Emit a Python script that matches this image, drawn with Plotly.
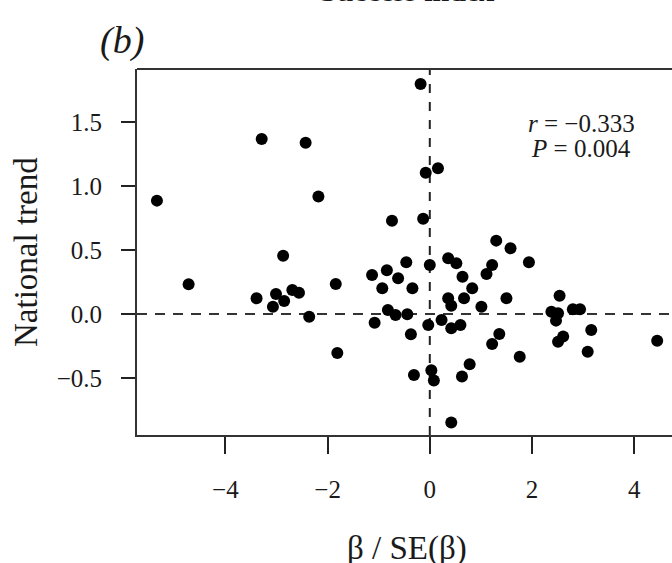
import plotly.graph_objects as go

# beta / SE(beta) values (x) and national trend values (y)
x_vals = [-5.34, -4.72, -3.39, -3.29, -3.07, -3.01, -2.87, -2.85, -2.69, -2.56,
          -2.43, -2.36, -2.18, -1.84, -1.81, -1.13, -1.08, -0.93, -0.84, -0.82,
          -0.74, -0.67, -0.62, -0.46, -0.44, -0.37, -0.34, -0.31, -0.18, -0.13,
          -0.08, -0.03, 0.00, 0.03, 0.08, 0.16, 0.23, 0.36, 0.36, 0.42,
          0.42, 0.42, 0.52, 0.60, 0.63, 0.64, 0.67, 0.78, 0.83, 1.01,
          1.11, 1.22, 1.22, 1.30, 1.36, 1.50, 1.58, 1.76, 1.94, 2.38,
          2.47, 2.51, 2.51, 2.54, 2.61, 2.80, 2.94, 3.09, 3.16, 4.45]
y_vals = [0.887, 0.232, 0.123, 1.37, 0.057, 0.156, 0.455, 0.102, 0.188, 0.167,
          1.34, -0.021, 0.92, 0.235, -0.305, 0.305, -0.068, 0.201, 0.343, 0.031,
          0.73, -0.008, 0.279, 0.405, -0.002, -0.159, 0.201, -0.477, 1.80, 0.746,
          1.105, -0.086, 0.383, -0.44, -0.52, 1.14, -0.047, 0.436, 0.123, 0.065,
          -0.112, -0.85, 0.397, -0.086, -0.49, 0.292, 0.123, -0.394, 0.201, 0.057,
          0.313, 0.383, -0.235, 0.574, -0.156, 0.123, 0.514, -0.334, 0.404, 0.018,
          -0.052, 0.005, -0.217, 0.143, -0.177, 0.037, 0.037, -0.295, -0.125, -0.209]

x_ticks = [-4, -2, 0, 2, 4]
y_ticks = [-0.5, 0.0, 0.5, 1.0, 1.5]

FONT = "Liberation Serif, Times New Roman, serif"
TXT = "#1a1a1a"

fig = go.Figure()
fig.add_trace(go.Scatter(
    x=x_vals, y=y_vals, mode="markers",
    marker=dict(color="black", size=12, line=dict(width=0)),
    showlegend=False, hoverinfo="x+y"))

# dashed reference lines at zero
fig.add_shape(type="line", xref="x", yref="paper", x0=0, x1=0, y0=0, y1=1,
              line=dict(color="#222", width=2, dash="9px,9px"), layer="below")
fig.add_shape(type="line", xref="paper", yref="y", x0=0, x1=1, y0=0, y1=0,
              line=dict(color="#333", width=2, dash="10px,8px"), layer="below")
# top border of box
fig.add_shape(type="line", xref="paper", yref="paper", x0=0, x1=1, y0=1, y1=1,
              line=dict(color="#333", width=2))

fig.update_xaxes(range=[-5.73, 4.74], tickvals=x_ticks,
                 ticktext=[("\u2212" + str(abs(v))) if v < 0 else str(v) for v in x_ticks],
                 showgrid=False, zeroline=False, showline=True, linecolor="#333",
                 linewidth=2, ticks="outside", ticklen=17, tickwidth=1.5,
                 tickcolor="#222", tickfont=dict(family=FONT, size=25, color=TXT),
                 ticklabelstandoff=14)
fig.update_yaxes(range=[-0.947, 1.917], tickvals=y_ticks,
                 ticktext=[f"{v:.1f}".replace("-", "\u2212") for v in y_ticks],
                 showgrid=False, zeroline=False, showline=True, linecolor="#333",
                 linewidth=2, ticks="outside", ticklen=14, tickwidth=1.5,
                 tickcolor="#222", tickfont=dict(family=FONT, size=25, color=TXT),
                 ticklabelstandoff=14)

# axis titles
fig.add_annotation(xref="paper", yref="paper", x=0.505, y=-0.309, xanchor="center", yanchor="middle",
                   text="\u03b2 / SE(\u03b2)", showarrow=False,
                   font=dict(family=FONT, size=33, color=TXT))
fig.add_annotation(xref="paper", yref="paper", x=-0.2075, y=0.5, xanchor="center", yanchor="middle",
                   text="National trend", showarrow=False, textangle=-90,
                   font=dict(family=FONT, size=33, color=TXT))

# statistics
fig.add_annotation(xref="paper", yref="paper", x=0.83, y=0.852, xanchor="center", yanchor="middle",
                   text="<i>r</i> = \u22120.333", showarrow=False,
                   font=dict(family=FONT, size=25, color=TXT))
fig.add_annotation(xref="paper", yref="paper", x=0.83, y=0.784, xanchor="center", yanchor="middle",
                   text="<i>P</i> = 0.004", showarrow=False,
                   font=dict(family=FONT, size=25, color=TXT))
# panel label
fig.add_annotation(xref="paper", yref="paper", x=-0.028, y=1.079, xanchor="center", yanchor="middle",
                   text="<i>(b)</i>", showarrow=False,
                   font=dict(family=FONT, size=38, color=TXT))
# panel title, cut off at the top edge as in the original
fig.add_annotation(xref="paper", yref="paper", x=0.505, y=1.164, xanchor="center", yanchor="bottom",
                   text="<b>Success index</b>", showarrow=False,
                   font=dict(family=FONT, size=30, color=TXT))

fig.update_layout(width=672, height=563, margin=dict(l=137, r=0, t=69, b=128),
                  plot_bgcolor="white", paper_bgcolor="white",
                  font=dict(family=FONT))

fig.write_html("out.html", config={"displayModeBar": False},
               post_script="document.body.style.margin='0';document.body.style.overflow='hidden';")
